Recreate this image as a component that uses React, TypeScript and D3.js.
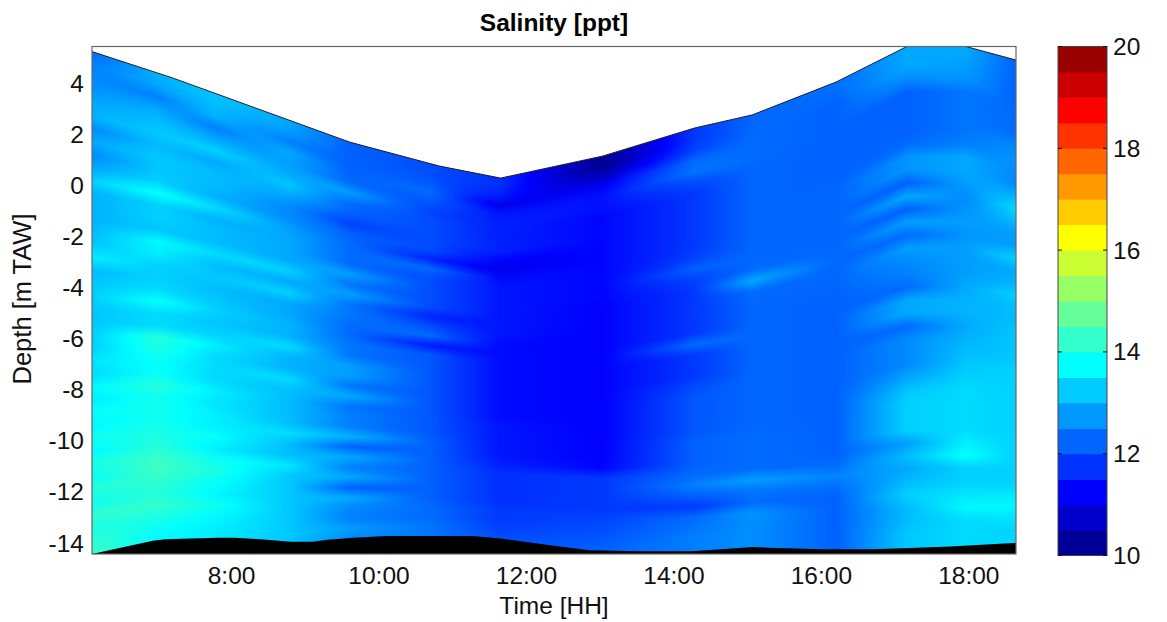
import React from 'react';
import * as d3 from 'd3';

const stationHours = [6.107, 7.0, 7.77, 8.79, 9.6, 10.69, 11.64, 13.03, 14.28, 15.06, 16.2, 17.16, 17.96, 18.64];
const surfaceDepth = [5.23, 4.39, 3.61, 2.55, 1.69, 0.87, 0.28, 1.14, 2.24, 2.75, 4.04, 5.68, 5.68, 4.9];
const bottomDepth = [-14.43, -13.93, -13.89, -13.93, -13.81, -13.77, -13.81, -14.24, -14.28, -14.12, -14.2, -14.16, -14.12, -14.0];

const outlineHours = [6.107, 7.2, 9.6, 10.82, 11.65, 13.03, 14.28, 15.06, 16.2, 17.16, 17.96, 18.64];
const outlineDepth = [5.23, 4.2, 1.69, 0.75, 0.28, 1.14, 2.24, 2.75, 4.04, 5.43, 5.43, 4.9];

const bedHours = [6.107, 6.93, 7.1, 7.8, 8.05, 8.4, 8.8, 9.1, 9.3, 9.65, 10.1, 11.27, 11.68, 12.3, 12.85, 13.53, 14.24, 15.07, 15.4, 16.03, 16.67, 17.2, 17.75, 18.6, 18.64];
const bedDepth = [-14.43, -13.91, -13.85, -13.79, -13.79, -13.85, -13.95, -13.95, -13.87, -13.79, -13.73, -13.73, -13.83, -14.08, -14.28, -14.32, -14.32, -14.16, -14.2, -14.24, -14.24, -14.2, -14.14, -14.0, -14.0];

const sal0 = [12.3,12.5,12.6,12.7,12.9,13.0,12.6,12.9,12.6,12.9, 13.3,13.0,13.0,13.0,13.1,13.2,13.6,13.1,13.2,13.3, 13.2,13.2,13.3,13.3,13.5,13.4,13.7,13.6,13.8,13.7, 13.9,13.7,14.0,13.8,14.1,13.9,14.2,14.0,14.2,14.3];
const sal1 = [13.0,12.9,12.5,12.9,13.1,13.2,13.1,13.2,13.2,13.3, 13.8,13.3,13.3,13.2,13.7,13.6,13.3,13.3,13.4,13.8, 13.4,13.4,14.1,14.0,13.8,13.8,14.1,13.9,13.9,13.9, 14.0,14.1,14.3,14.35,14.2,14.1,14.25,14.0,13.8,13.7];
const sal2 = [13.2,13.1,13.0,12.5,12.9,13.3,12.9,13.1,13.1,13.0, 13.4,13.0,13.1,13.1,13.4,13.1,13.2,13.1,13.2,13.3, 13.2,13.3,13.6,13.4,13.4,13.4,13.6,13.5,13.6,13.6, 13.8,13.6,13.9,14.0,13.8,13.7,13.9,13.7,13.6,13.6];
const sal3 = [12.9,12.8,12.5,12.9,12.8,12.9,13.2,12.9,12.6,12.6, 12.8,12.9,12.9,12.9,13.3,12.9,13.3,12.9,12.9,13.0, 13.0,13.4,13.0,13.0,13.4,13.1,13.1,13.1,13.1,13.4, 13.1,13.1,13.5,13.2,13.2,13.2,13.2,13.2,13.2,13.2];
const sal4 = [12.2,12.2,12.2,12.2,12.3,12.8,12.3,12.2,11.9,12.2, 12.3,12.3,12.3,12.8,12.4,12.8,12.4,12.4,12.3,12.3, 12.4,12.4,12.8,12.8,12.4,12.9,12.4,12.5,12.5,13.0, 12.2,12.9,12.5,12.9,12.2,12.9,12.6,12.5,12.8,12.6];
const sal5 = [12.0,12.0,12.1,12.3,12.1,11.9,12.0,12.0,12.0,12.0, 11.6,12.3,12.0,12.0,12.0,12.0,11.6,12.0,12.3,11.5, 12.1,12.1,12.1,12.1,12.1,12.1,12.1,12.1,12.1,12.2, 12.2,12.2,12.2,12.2,12.2,12.2,12.3,12.3,12.4,12.4];
const sal6 = [11.7,11.7,11.5,11.05,11.45,11.55,11.55,11.55,11.55,11.25, 11.05,11.35,11.45,11.45,11.45,11.45,11.45,11.45,11.35,11.35, 11.35,11.35,11.35,11.35,11.35,11.35,11.35,11.45,11.45,11.45, 11.45,11.55,11.7,11.7,11.7,11.7,11.8,11.8,11.9,12.0];
const sal7 = [10.2,10.1,10.6,11.2,11.4,11.4,11.3,11.3,11.3,11.3, 11.3,11.3,11.3,11.3,11.3,11.25,11.25,11.25,11.25,11.25, 11.25,11.25,11.25,11.25,11.25,11.25,11.25,11.25,11.25,11.25, 11.25,11.3,11.8,11.8,11.8,11.8,11.9,12.0,12.1,12.2];
const sal8 = [11.8,11.8,11.9,12.3,12.4,12.0,11.8,11.8,11.8,11.8, 11.8,11.8,11.9,12.2,11.9,11.8,11.8,11.8,11.8,11.8, 12.3,11.8,11.8,11.8,12.0,12.1,12.1,12.1,12.1,12.2, 12.2,12.2,12.3,12.5,12.2,11.8,12.3,12.4,12.5,12.5];
const sal9 = [12.25,12.25,12.3,12.3,12.3,12.25,12.25,12.25,12.25,12.25, 12.25,12.25,12.25,12.25,12.3,12.9,12.3,12.25,12.25,12.25, 12.25,12.25,12.25,12.25,12.25,12.25,12.25,12.25,12.25,12.3, 12.3,12.3,12.3,12.8,12.4,12.3,12.7,12.65,12.65,12.65];
const sal10 = [12.35,12.3,12.2,12.2,12.2,12.2,12.2,12.2,12.2,12.25, 12.25,12.25,12.25,12.25,12.25,12.25,12.25,12.25,12.2,12.2, 12.2,12.2,12.2,12.2,12.2,12.2,12.2,12.2,12.2,12.2, 12.2,12.2,12.3,12.55,12.3,12.2,12.2,12.2,12.2,12.2];
const sal11 = [12.9,12.9,12.9,12.6,12.2,12.2,12.2,12.2,12.3,12.7, 12.7,12.2,12.9,12.2,12.8,12.3,12.8,12.6,12.5,12.3, 12.9,12.9,12.3,12.6,12.6,12.6,12.9,13.2,13.3,13.3, 13.3,12.8,13.1,12.9,13.1,13.3,13.1,13.1,13.2,13.2];
const sal12 = [12.9,12.9,12.8,12.7,12.4,12.4,12.4,12.4,12.5,12.9, 12.9,12.8,12.6,12.7,12.8,12.7,12.8,12.8,12.8,12.9, 13.0,13.0,12.9,13.0,13.1,13.2,13.3,13.4,13.4,13.4, 13.4,13.6,13.8,13.3,13.3,13.5,13.7,13.4,13.4,13.4];
const sal13 = [12.2,12.2,12.2,12.2,12.3,12.3,12.3,12.6,12.7,12.6, 12.6,13.0,13.4,13.1,12.8,12.8,13.3,12.9,13.0,13.3, 13.1,13.1,13.2,13.2,13.2,13.3,13.3,13.3,13.3,13.3, 13.3,13.3,13.3,13.3,13.3,13.5,13.7,13.5,13.3,13.4];
const salinity = [sal0, sal1, sal2, sal3, sal4, sal5, sal6, sal7, sal8, sal9, sal10, sal11, sal12, sal13];

const colorLevels = ['#000099','#0000cc','#0000ff','#0033ff','#0066ff','#0099ff','#00ccff','#00ffff','#33ffcc','#66ff99','#99ff66','#ccff33','#ffff00','#ffcc00','#ff9900','#ff6600','#ff3300','#ff0000','#cc0000','#990000'];
const levelEdges = colorLevels.map((_, i) => 10 + i * 0.5);
const xTickHours = [8, 10, 12, 14, 16, 18];
const yTicks = [4, 2, 0, -2, -4, -6, -8, -10, -12, -14];
const barTicks = [10, 12, 14, 16, 18, 20];

const W = 1167, H = 622;
const L = 92, R = 1016, T = 46.5, B = 554;
const FONT = '"Liberation Sans", Arial, sans-serif';
const FS = 24.5;
const TXT = '#111';

const x = d3.scaleLinear().domain([6.107, 18.64]).range([L, R]);
const y = d3.scaleLinear().domain([5.43, -14.43]).range([T, B]);
const barY = d3.scaleLinear().domain([10, 20]).range([555.5, T]);
const color = d3.scaleLinear<string>()
  .domain(colorLevels.map((_, i) => 10.25 + i * 0.5))
  .range(colorLevels)
  .interpolate(d3.interpolateRgb)
  .clamp(true);

const STRIP = 2;
const stripXs = d3.range(L, R, STRIP);
const rows = d3.range(sal0.length);
const interpSurface = d3.scaleLinear().domain(stationHours).range(surfaceDepth);
const interpBottom = d3.scaleLinear().domain(stationHours).range(bottomDepth);
const rowScales = rows.map((r) => d3.scaleLinear().domain(stationHours).range(salinity.map((c) => c[r])));

const surfacePath = d3.line<number>().x((_, i) => x(outlineHours[i])).y((d) => y(d))(outlineDepth) as string;
const waterClip = d3.area<number>().x((_, i) => x(outlineHours[i])).y0(B).y1((d) => y(d))(outlineDepth) as string;
const bedArea = d3.area<number>().x((_, i) => x(bedHours[i])).y0(B).y1((d) => y(d))(bedDepth) as string;

export default function App() {
  return (
    <svg width={W} height={H} viewBox={`0 0 ${W} ${H}`} style={{ position: 'absolute', left: 0, top: 0, background: '#fff' }}>
      <defs>
        <clipPath id="water"><path d={waterClip} /></clipPath>
        <clipPath id="plot"><rect x={L} y={T} width={R - L} height={B - T} /></clipPath>
        {stripXs.map((px, i) => {
          const h = x.invert(px + STRIP / 2);
          const top = y(interpSurface(h));
          const bot = y(interpBottom(h));
          return (
            <linearGradient key={i} id={`s${i}`} gradientUnits="userSpaceOnUse" x1={0} x2={0} y1={top} y2={bot}>
              {rows.map((r) => (
                <stop key={r} offset={r / (rows.length - 1)} stopColor={color(rowScales[r](h))} />
              ))}
            </linearGradient>
          );
        })}
      </defs>

      <g clipPath="url(#water)">
        {stripXs.map((px, i) => (
          <rect key={i} x={px} y={T} width={STRIP + 0.5} height={B - T} fill={`url(#s${i})`} />
        ))}
      </g>
      <g clipPath="url(#plot)">
        <path d={surfacePath} fill="none" stroke="#222" strokeWidth={1} />
        <path d={bedArea} fill="#000" />
      </g>
      <rect x={L} y={T} width={R - L} height={B - T} fill="none" stroke="#666" strokeWidth={1.2} />

      {xTickHours.map((t) => (
        <text key={t} x={x(t)} y={584} textAnchor="middle" fontFamily={FONT} fontSize={FS} fill={TXT}>{`${t}:00`}</text>
      ))}
      {yTicks.map((t) => (
        <text key={t} x={84} y={y(t) + 8.5} textAnchor="end" fontFamily={FONT} fontSize={FS} fill={TXT}>{t}</text>
      ))}
      <text x={554} y={614} textAnchor="middle" fontFamily={FONT} fontSize={FS} fill={TXT}>Time [HH]</text>
      <text transform="translate(31,299) rotate(-90)" textAnchor="middle" fontFamily={FONT} fontSize={25.5} fill={TXT}>Depth [m TAW]</text>
      <text x={554} y={31} textAnchor="middle" fontFamily={FONT} fontSize={FS} fontWeight="bold" fill="#000">Salinity [ppt]</text>

      {colorLevels.map((c, i) => (
        <rect key={c} x={1058} y={barY(levelEdges[i] + 0.5)} width={49} height={barY(levelEdges[i]) - barY(levelEdges[i] + 0.5) + 0.5} fill={c} />
      ))}
      <rect x={1058} y={T} width={49} height={barY(10) - T} fill="none" stroke="#444" strokeWidth={1} />
      {barTicks.map((t) => (
        <g key={t}>
          <line x1={1058} x2={1062} y1={barY(t)} y2={barY(t)} stroke="#111" />
          <line x1={1103} x2={1107} y1={barY(t)} y2={barY(t)} stroke="#111" />
          <text x={1113} y={barY(t) + 8.5} fontFamily={FONT} fontSize={FS} fill={TXT}>{t}</text>
        </g>
      ))}
    </svg>
  );
}
